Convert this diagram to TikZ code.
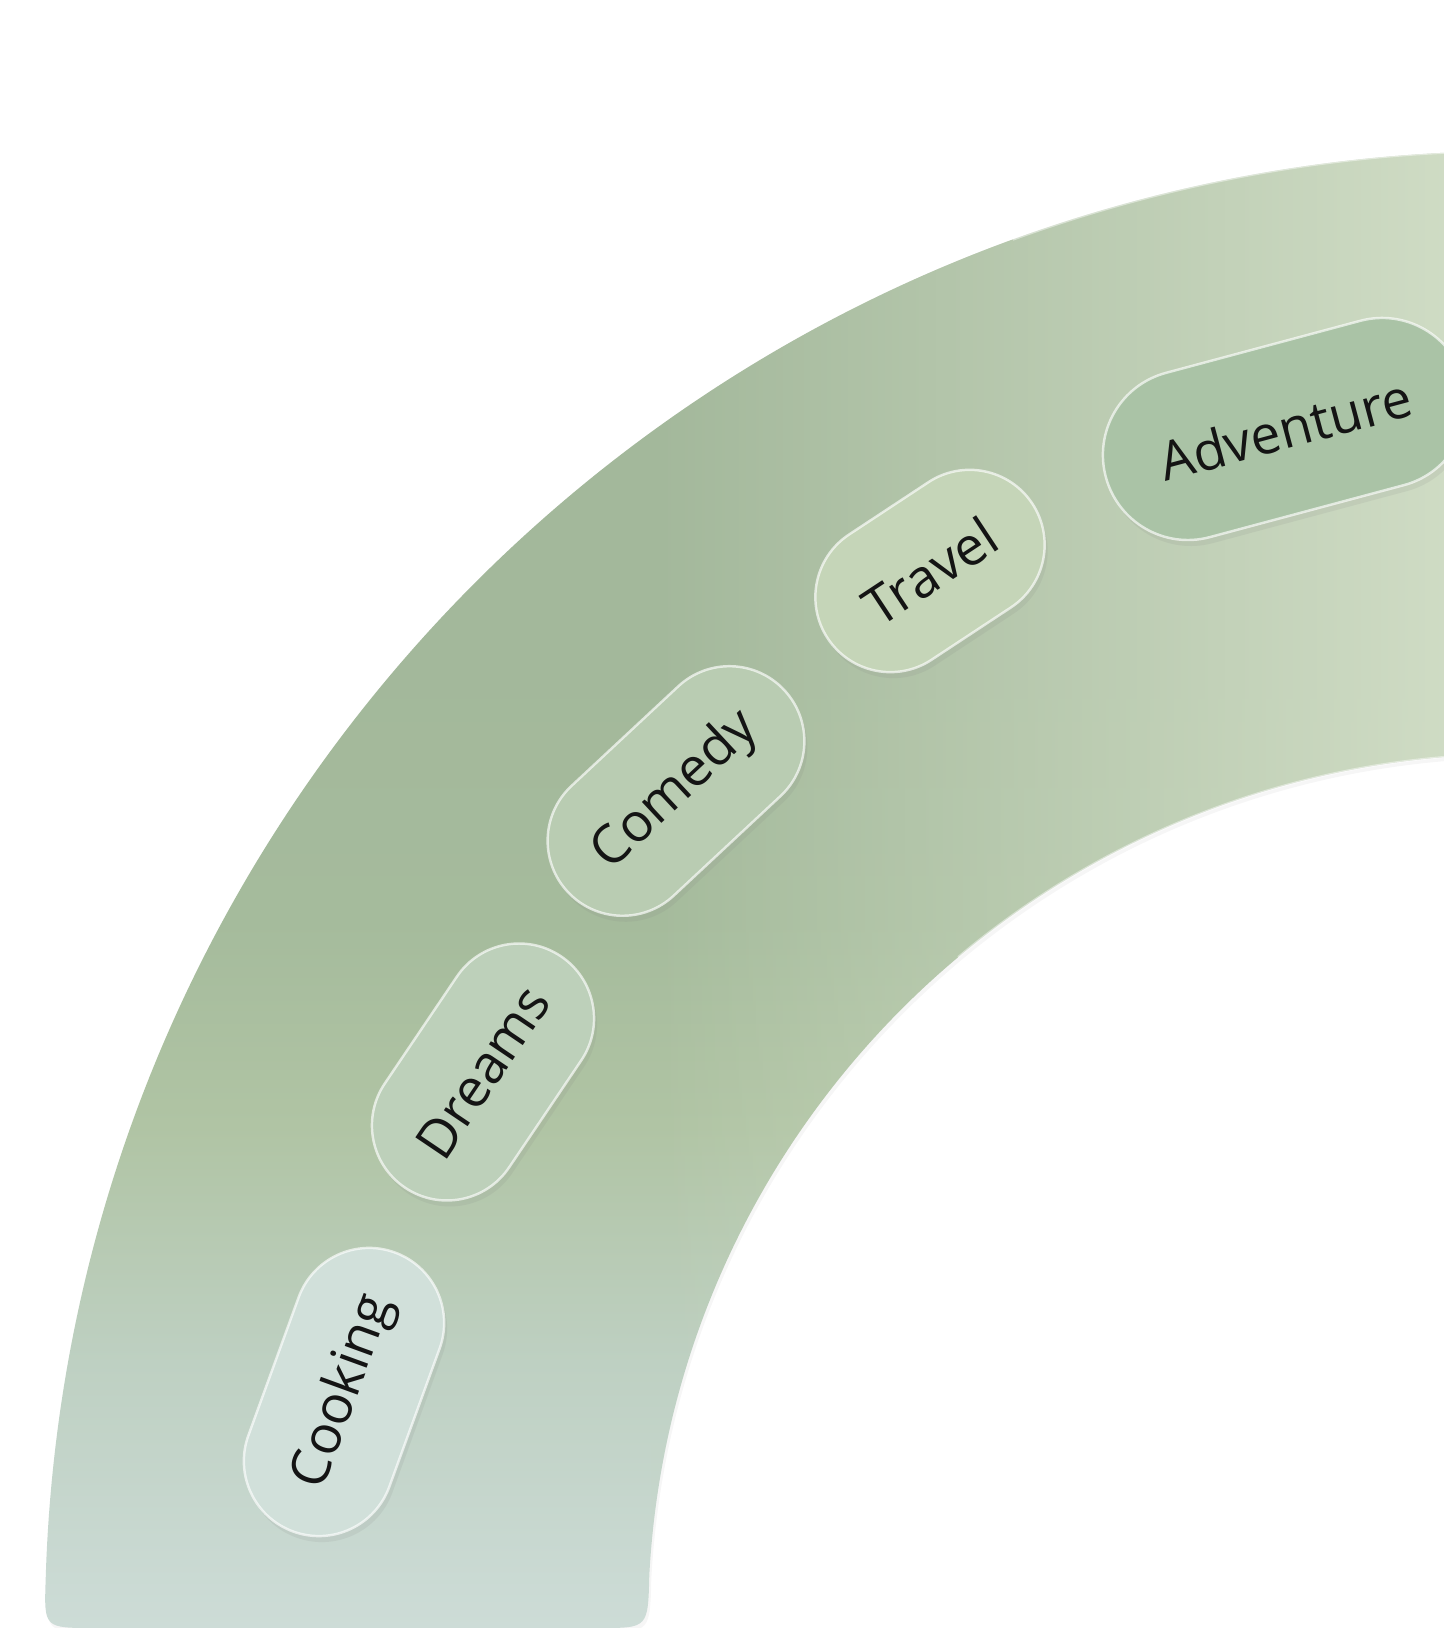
\documentclass[tikz,border=0pt]{standalone}
\usepackage{fontspec}
\setmainfont{Open Sans}
\usetikzlibrary{shapes.misc,shadows,fadings}

\definecolor{bandtop}{HTML}{A3B89B}
\definecolor{bandmid}{HTML}{A5BB9C}
\definecolor{bandyel}{HTML}{B0C4A4}
\definecolor{bandlow}{HTML}{BED0C2}
\definecolor{bandbot}{HTML}{CDDCD7}
\definecolor{bandlight}{HTML}{D3DFC8}
\definecolor{cookfill}{HTML}{D1E0DA}
\definecolor{dreamfill}{HTML}{BDD0BA}
\definecolor{comedyfill}{HTML}{B9CCB2}
\definecolor{travelfill}{HTML}{C5D5B8}
\definecolor{advfill}{HTML}{AAC3A6}

% tikz maps the path's box onto 25bp..75bp
\pgfdeclareverticalshading{bandshade}{100bp}{color(0bp)=(bandbot); color(25bp)=(bandbot); color(34bp)=(bandlow); color(42bp)=(bandyel); color(49bp)=(bandmid); color(58bp)=(bandtop); color(100bp)=(bandtop)}
\tikzfading[name=fade band, left color=transparent!100, middle color=transparent!80, right color=transparent!8]

\tikzset{
  topic/.style={rounded rectangle, inner sep=0pt, draw=white, draw opacity=0.65,
    line width=0.7pt, text=black!92, font=\fontsize{15.2}{18}\selectfont,
    drop shadow={opacity=0.12, shadow xshift=0.03cm, shadow yshift=-0.06cm}},
  glint/.style={white, opacity=0.45, line width=0.6pt}
}

\begin{document}
\begin{tikzpicture}
  \useasboundingbox[fill=white] (0,0) rectangle (14.44,16.28);
  \def\outerr{14.71}
  \def\innerr{8.68}
  \coordinate (c) at (15.16,0.06);
  % the band
  \begin{scope}[shift={(c)}]
    \def\bandpath{(92.8:\outerr) arc[start angle=92.8, end angle=178.35, radius=\outerr]
      .. controls (-14.72,-0.06) .. (-14.22,-0.06) -- (-9.16,-0.06)
      .. controls (-8.68,-0.06) .. (176.9:\innerr)
      arc[start angle=176.9, end angle=94.76, radius=\innerr] -- cycle}
    \shade[shading=bandshade, drop shadow={opacity=0.07, shadow xshift=0.02cm, shadow yshift=-0.04cm}] \bandpath;
    \begin{scope}
      \clip \bandpath;
      \fill[bandlight, path fading=fade band] (-8.66,-0.1) rectangle (-0.72,16.3);
    \end{scope}
    \draw[glint] (92.8:\outerr) arc[start angle=92.8, end angle=110, radius=\outerr];
    \draw[glint] (94.76:\innerr) arc[start angle=94.76, end angle=130, radius=\innerr];
  \end{scope}
  % topics
  \foreach \name/\txt/\x/\y/\ang/\len/\wid/\col in {
      cooking/Cooking/3.44/2.36/70/2.97/1.5/cookfill,
      dreams/Dreams/4.83/5.56/56/2.79/1.5/dreamfill,
      comedy/Comedy/6.76/8.37/43/2.96/1.5/comedyfill,
      travel/Travel/9.30/10.57/33.4/2.45/1.5/travelfill,
      adventure/Adventure/12.85/11.99/15/3.71/1.7/advfill} {
    \node[topic, fill=\col, minimum width=\len cm, minimum height=\wid cm,
      rotate=\ang] (\name) at (\x,\y) {\txt};
  }
\end{tikzpicture}
\end{document}
